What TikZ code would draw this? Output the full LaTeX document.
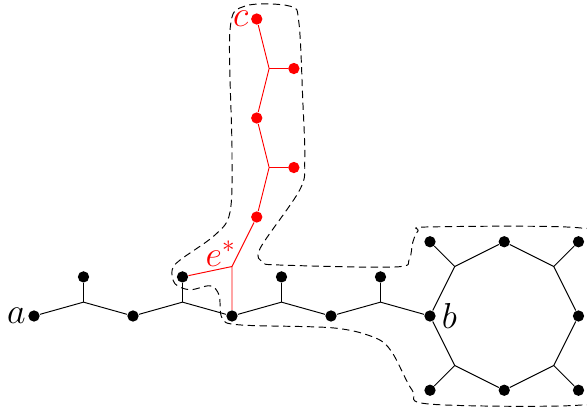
\documentclass[tikz,border=0pt]{standalone}
\usepackage{amsmath}
\usetikzlibrary{calc}

\begin{document}
\begin{tikzpicture}[
		line width=0.55pt,
		dot/.style={circle,fill,inner sep=0pt,minimum size=6.5pt},
		hull/.style={dash pattern=on 4.2pt off 2.6pt},
		lbl/.style={font=\fontsize{21}{25}\selectfont,inner sep=2pt},
	]
	\useasboundingbox (-0.687,-2.0) rectangle (11.172,6.384);
	%
	\draw[hull] plot[smooth cycle,tension=0.55] coordinates {
		(4.0,3.35) (3.96,5.78) (4.26,6.26) (5.17,6.26) (5.35,5.94) (5.43,4.36)
		(5.47,3.15) (5.37,2.55) (4.57,1.37) (4.63,1.09) (4.97,1.03) (7.29,0.99)
		(7.58,1.15) (7.65,1.48) (7.76,1.72) (8.0,1.8) (11.03,1.78) (11.33,1.43) (11.33,-1.5)
		(11.03,-1.8) (8.0,-1.78) (7.64,-1.5) (7.23,-0.73) (6.89,-0.44) (6.04,-0.24)
		(4.16,-0.18) (3.8,-0.04) (3.74,0.42) (3.56,0.61) (3.15,0.53) (2.85,0.65)
		(2.79,0.93) (2.95,1.13) (3.66,1.64) (3.96,2.1)};
	%
	\node[dot,label={[lbl,inner sep=1pt]left:$a$}] (a) at (0,0) {};
	\coordinate (j1) at (1,0.28);
	\node[dot] (l1) at (1,0.79) {};
	\node[dot] (n1) at (2,0) {};
	\coordinate (j2) at (3,0.28);
	\node[dot] (l2) at (3,0.79) {};
	\node[dot] (n2) at (4,0) {};
	\coordinate (j3) at (5,0.28);
	\node[dot] (l3) at (5,0.79) {};
	\node[dot] (n3) at (6,0) {};
	\coordinate (j4) at (7,0.28);
	\node[dot] (l4) at (7,0.79) {};
	\node[dot,label={[lbl,inner sep=3pt]right:$b$}] (b) at (8,0) {};
	%
	\coordinate (o1) at (8.5,1);
	\node[dot] (t) at (9.5,1.5) {};
	\coordinate (o2) at (10.5,1);
	\node[dot] (r) at (11,0) {};
	\coordinate (o3) at (10.5,-1);
	\node[dot] (bt) at (9.5,-1.5) {};
	\coordinate (o4) at (8.5,-1);
	\node[dot] (q1) at (8,1.5) {};
	\node[dot] (q2) at (11,1.5) {};
	\node[dot] (q3) at (11,-1.5) {};
	\node[dot] (q4) at (8,-1.5) {};
	%
	\begin{scope}[red]
		\coordinate (e) at (4,1);
		\node[lbl,anchor=south east,inner sep=0pt] at ($(e)+(0.08,0)$) {$e^*$};
		\node[dot] (r1) at (4.5,2) {};
		\coordinate (rj1) at (4.75,3);
		\node[dot] (rl1) at (5.25,3) {};
		\node[dot] (r2) at (4.5,4) {};
		\coordinate (rj2) at (4.75,5);
		\node[dot] (rl2) at (5.25,5) {};
		\node[dot,label={[lbl,inner sep=1pt]left:$c$}] (c) at (4.5,6) {};
		\draw (l2) -- (e) -- (n2);
		\draw (e) -- (r1) -- (rj1) -- (r2) -- (rj2) -- (c);
		\draw (rj1) -- (rl1);
		\draw (rj2) -- (rl2);
	\end{scope}
	%
	\draw (a) -- (j1) -- (n1) -- (j2) -- (n2) -- (j3) -- (n3) -- (j4) -- (b);
	\draw (j1) -- (l1);
	\draw (j2) -- (l2);
	\draw (j3) -- (l3);
	\draw (j4) -- (l4);
	\draw (b) -- (o1) -- (t) -- (o2) -- (r) -- (o3) -- (bt) -- (o4) -- (b);
	\draw (o1) -- (q1);
	\draw (o2) -- (q2);
	\draw (o3) -- (q3);
	\draw (o4) -- (q4);
\end{tikzpicture}
\end{document}
